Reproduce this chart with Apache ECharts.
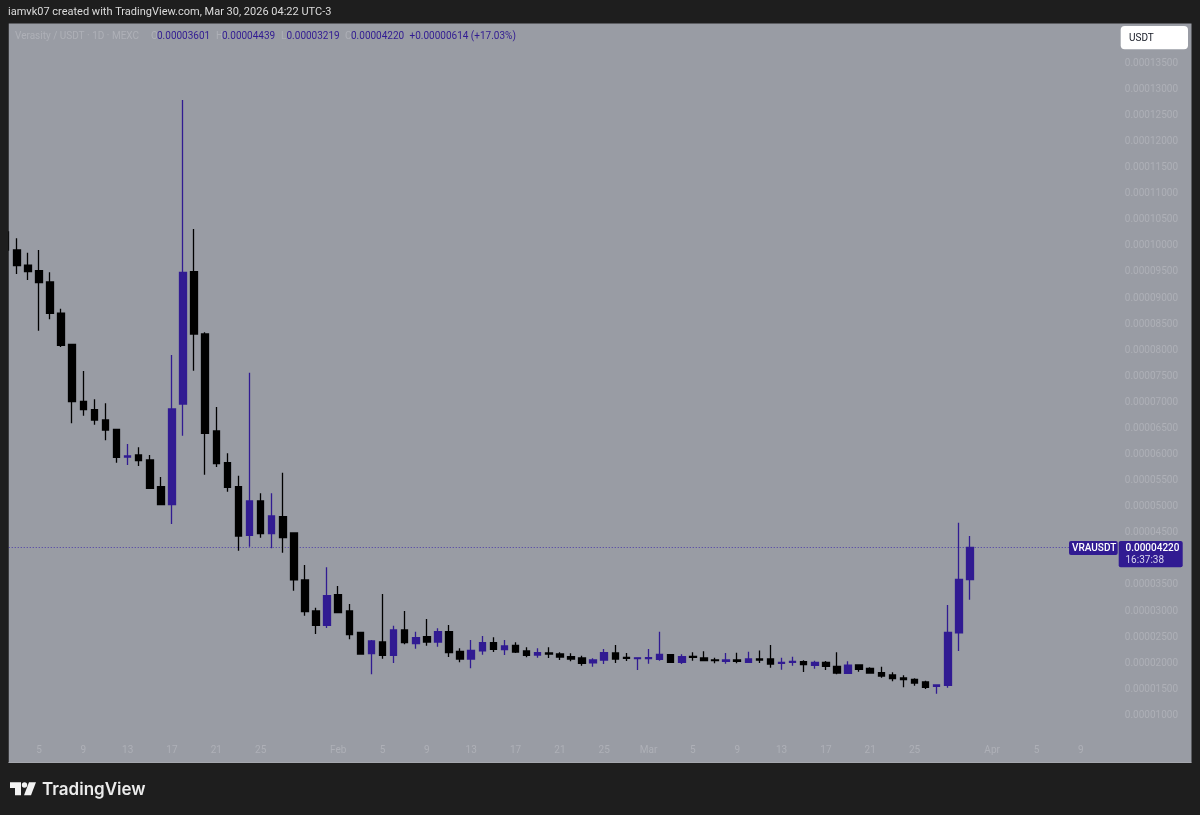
<!DOCTYPE html>
<html><head><meta charset="utf-8">
<style>html,body{margin:0;padding:0;background:#1e1e1e}#c{width:1200px;height:815px}</style>
<script src="https://cdn.jsdelivr.net/npm/echarts@6/dist/echarts.min.js"></script>
</head><body><div id="c"></div>
<script>
// Prices are in units of 0.00000001 USDT. One row per day, Jan 2 to Mar 30 2026.
const opens = [
10266,9921,9633,9524,9308,8713,8113,7021,6860,6662,6480,5953,5992,5896,5384,5039,6969,9505,8311,6452,5844,5384,4452,5110,4483,4809,
4496,3596,3001,2727,
3314,3001,2593,2183,2407,2152,2637,2375,2509,2407,2604,2229,2081,2235,2394,2263,2344,2235,2158,2196,2177,2125,2100,2005,2062,2196,2114,2087,
2087,2076,2164,2018,2133,2100,2062,2037,2062,2018,2081,2081,1999,2018,2029,1961,2018,1941,1807,1966,1903,1819,1775,1717,1692,1640,1558,1577,2580,3601];
const closes = [
9921,9620,9505,9294,8708,8094,7013,6860,6662,6471,5947,5972,5882,5353,5039,6873,9493,8311,6407,5825,5372,4439,5110,4483,4822,4406,
3596,2988,2727,3294,
2969,2547,2177,2426,2152,2637,2394,2490,2407,2604,2202,2081,2248,2394,2267,2330,2215,2152,2202,2177,2119,2081,1999,2062,2202,2081,2095,2104,
2106,2171,2018,2125,2114,2049,2049,2062,2037,2081,2062,1985,2018,2037,1972,2018,1941,1813,1961,1884,1813,1755,1704,1685,1621,1539,1583,2593,3609,4220];
const lows = [
9883,9461,9346,8374,8593,8062,6599,6745,6572,6273,5844,5800,5781,5345,5033,4669,6361,7607,5614,5762,5288,4157,4234,4406,4203,4119,
3390,2911,2560,2675,
2963,2459,2164,1788,2087,2005,2363,2279,2336,2317,2120,2018,1903,2164,2215,2158,2196,2114,2106,2100,2062,2037,1953,1934,1985,2005,2043,1870,
1991,2049,2010,1985,2049,2037,1999,1991,1999,2005,2005,1915,1876,1953,1832,1895,1870,1788,1794,1838,1807,1723,1654,1539,1569,1506,1416,1531,2235,3219];
const highs = [
10304,10145,9869,9921,9493,8796,8119,7602,7059,6982,6484,6202,6139,5992,5570,7908,12796,10324,8343,6912,6024,5595,7569,5257,5257,5652,
4500,3883,3065,3839,
3481,3136,2599,2445,3327,2719,3001,2604,2848,2670,2733,2286,2445,2522,2497,2445,2401,2305,2286,2305,2210,2190,2144,2095,2273,2350,2196,2106,
2273,2604,2177,2171,2210,2229,2106,2196,2202,2221,2244,2350,2106,2125,2056,2049,2043,2210,2037,1980,1922,1934,1826,1769,1711,1665,1596,3116,4694,4439];

const yTickValues = [1000,1500,2000,2500,3000,3500,4000,4500,5000,5500,6000,6500,7000,7500,8000,8500,9000,9500,10000,10500,11000,11500,12000,12500,13000,13500];
const xTickDates = ['01-05','01-09','01-13','01-17','01-21','01-25','02-01','02-05','02-09','02-13','02-17','02-21','02-25','03-01','03-05','03-09','03-13','03-17','03-21','03-25','04-01','04-05','04-09'];
const xTickTexts = ['5','9','13','17','21','25','Feb','5','9','13','17','21','25','Mar','5','9','13','17','21','25','Apr','5','9'];

const monthLengths = [31,28,31,30];
const categories = [];
for (let m = 0, d = 2; categories.length < 107; ) {
  categories.push(String(m+1).padStart(2,'0') + '-' + String(d).padStart(2,'0'));
  d++; if (d > monthLengths[m]) { d = 1; m++; }
}
const candles = opens.map((o,i) => [o, closes[i], lows[i], highs[i]]);
const lastClose = closes[closes.length-1];
const fmt = v => (v/1e8).toFixed(8);

const BG = '#999ca4', FRAME = '#1e1e1e', UP = '#311b92', DOWN = '#000000', FAINT = '#aeb0b7';
const FONT = 'Roboto, sans-serif';

const chart = echarts.init(document.getElementById('c'), null, {renderer:'canvas'});
chart.setOption({
  animation:false,
  backgroundColor:FRAME,
  grid:{left:0.2, top:23.5, width:107*11.083, height:739},
  xAxis:{type:'category', data:categories, boundaryGap:true, position:'bottom',
    axisLine:{show:false}, axisTick:{show:false}, splitLine:{show:false},
    axisLabel:{inside:true, margin:7, color:FAINT, fontFamily:FONT, fontSize:10, hideOverlap:false,
      interval:(i,v)=>xTickDates.includes(v),
      formatter:v=>xTickTexts[xTickDates.indexOf(v)]}},
  yAxis:{type:'value', position:'right', min:97, max:14263, scale:true,
    axisLine:{show:false}, axisTick:{show:false}, splitLine:{show:false},
    axisLabel:{inside:true, margin:8, color:FAINT, fontFamily:FONT, fontSize:10,
      customValues:yTickValues, formatter:fmt}},
  series:[{type:'candlestick', data:candles, barWidth:7, z:5,
    itemStyle:{color:UP, color0:DOWN, borderColor:UP, borderColor0:DOWN, borderWidth:1.3},
    markLine:{silent:true, symbol:'none', animation:false, label:{show:false},
      lineStyle:{color:'#4a3aa8', type:[1,2], width:1},
      data:[[{coord:[categories[0], lastClose]},{coord:[categories[96], lastClose]}]]}
  }]
});

const ty = chart.convertToPixel({yAxisIndex:0}, lastClose);
const txt = (x,y,text,fill,size,weight,family) => ({type:'text', x, y, z:60,
  style:{text, fill, font:(weight||400)+' '+size+'px '+(family||FONT), verticalAlign:'middle'}});
const box = (x,y,w,h,fill,r,z) => ({type:'rect', z:z===undefined?60:z, shape:{x,y,width:w,height:h,r:r||0}, style:{fill}});
const legendY = 36;
chart.setOption({graphic:{elements:[
  box(8.5,23.5,1183,739,BG,0,0),
  box(0,0,8.5,815,FRAME,0,50),
  box(8.5,762,1183,1,'#a6a8ae',0,50),
  txt(8,12.5,'iamvk07 created with TradingView.com, Mar 30, 2026 04:22 UTC-3','#dcdcdc',11),
  txt(15,legendY,'Verasity / USDT · 1D · MEXC',FAINT,10),
  txt(151,legendY,'O',FAINT,10), txt(157,legendY,'0.00003601',UP,10),
  txt(216,legendY,'H',FAINT,10), txt(222,legendY,'0.00004439',UP,10),
  txt(281,legendY,'L',FAINT,10), txt(286.5,legendY,'0.00003219',UP,10),
  txt(345,legendY,'C',FAINT,10), txt(351,legendY,'0.00004220',UP,10),
  txt(409.5,legendY,'+0.00000614 (+17.03%)',UP,10),
  box(1120.7,26,67.3,23.3,'#ffffff',4),
  txt(1129,38.5,'USDT','#131722',10),
  box(1069,ty-6.5,48.7,14,UP,2),
  txt(1072,ty+1,'VRAUSDT','#ffffff',10,500),
  box(1118.7,ty-6.5,64,26.3,UP,2),
  txt(1125.5,ty+1,'0.00004220','#ffffff',10,500),
  txt(1125.5,ty+13.5,'16:37:38','#d9d6ee',10),
  {type:'polygon', z:60, shape:{points:[[10,782.3],[21,782.3],[21,795.3],[15,795.3],[15,788],[10,788]]}, style:{fill:'#f2f2f2'}},
  {type:'circle', z:60, shape:{cx:24.5,cy:785,r:2.7}, style:{fill:'#f2f2f2'}},
  {type:'polygon', z:60, shape:{points:[[29,782.3],[36,782.3],[31,795.3],[24,795.3]]}, style:{fill:'#f2f2f2'}},
  txt(42,789.5,'TradingView','#ececec',17,600,'Inter, sans-serif')
]}});
</script></body></html>
